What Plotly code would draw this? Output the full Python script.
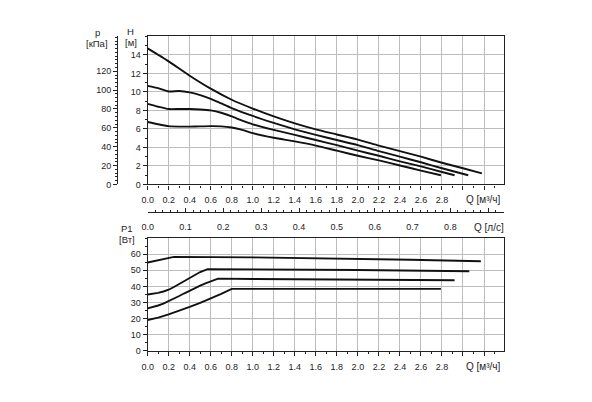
import plotly.graph_objects as go

# head curves, H [m] vs Q [m3/h]
q_h1 = [0, 0.2, 0.4, 0.6, 0.8, 1.0, 1.2, 1.4, 1.6, 1.8, 2.0, 2.2, 2.4, 2.6, 2.8, 3.0, 3.18]
h1 = [14.7, 13.3, 11.75, 10.35, 9.15, 8.2, 7.35, 6.6, 5.95, 5.4, 4.85, 4.2, 3.6, 3.0, 2.35, 1.75, 1.2]

q_h2 = [0, 0.1, 0.2, 0.3, 0.4, 0.5, 0.6, 0.7, 0.8, 1.0, 1.2, 1.4, 1.6, 1.8, 2.0, 2.2, 2.4, 2.6, 2.8, 3.05]
h2 = [10.65, 10.4, 10.05, 10.1, 9.95, 9.65, 9.25, 8.75, 8.25, 7.4, 6.65, 5.95, 5.35, 4.8, 4.25, 3.6, 3.0, 2.4, 1.75, 1.0]

q_h3 = [0, 0.1, 0.2, 0.3, 0.4, 0.5, 0.6, 0.7, 0.8, 0.9, 1.0, 1.2, 1.4, 1.6, 1.8, 2.0, 2.2, 2.4, 2.6, 2.8, 2.92]
h3 = [8.7, 8.4, 8.15, 8.15, 8.15, 8.1, 8.0, 7.75, 7.35, 6.9, 6.5, 5.9, 5.35, 4.8, 4.25, 3.65, 3.1, 2.5, 1.95, 1.35, 1.0]

q_h4 = [0, 0.1, 0.2, 0.3, 0.4, 0.5, 0.6, 0.7, 0.8, 0.9, 1.0, 1.2, 1.4, 1.6, 1.8, 2.0, 2.2, 2.4, 2.6, 2.79]
h4 = [6.75, 6.5, 6.3, 6.25, 6.25, 6.27, 6.3, 6.28, 6.15, 5.9, 5.55, 5.05, 4.65, 4.2, 3.65, 3.1, 2.6, 2.05, 1.5, 1.0]

# power curves, P1 [W] vs Q [m3/h]
q_p1 = [0, 0.05, 0.1, 0.15, 0.2, 0.25, 1.0, 1.8, 2.5, 3.17]
p1 = [54.8, 55.5, 56.3, 57.1, 57.8, 58.3, 58.0, 57.3, 56.5, 55.6]

q_p2 = [0, 0.05, 0.1, 0.15, 0.2, 0.25, 0.3, 0.35, 0.4, 0.45, 0.5, 0.57, 1.0, 2.0, 3.06]
p2 = [34.9, 35.2, 35.9, 36.8, 37.9, 39.6, 41.5, 43.6, 45.5, 47.3, 48.9, 50.7, 50.6, 50.2, 49.4]

q_p3 = [0, 0.05, 0.1, 0.15, 0.2, 0.25, 0.3, 0.35, 0.4, 0.45, 0.5, 0.55, 0.6, 0.67, 1.0, 2.0, 2.92]
p3 = [26.3, 27.1, 28.1, 29.3, 30.7, 32.3, 34.0, 35.7, 37.4, 39.0, 40.5, 41.9, 43.2, 44.8, 44.6, 44.2, 43.8]

q_p4 = [0, 0.1, 0.2, 0.3, 0.4, 0.5, 0.6, 0.7, 0.8, 1.5, 2.79]
p4 = [19.1, 20.6, 22.6, 24.8, 27.2, 29.7, 32.4, 35.3, 38.4, 38.4, 38.4]

# axis ticks
q_ticks = [0.0, 0.2, 0.4, 0.6, 0.8, 1.0, 1.2, 1.4, 1.6, 1.8, 2.0, 2.2, 2.4, 2.6, 2.8, 3.0, 3.2]
q_labels = ["0.0", "0.2", "0.4", "0.6", "0.8", "1.0", "1.2", "1.4", "1.6", "1.8",
            "2.0", "2.2", "2.4", "2.6", "2.8", "", ""]
ls_ticks = [0.0, 0.1, 0.2, 0.3, 0.4, 0.5, 0.6, 0.7, 0.8, 0.9]
ls_labels = ["0.0", "0.1", "0.2", "0.3", "0.4", "0.5", "0.6", "0.7", "0.8", ""]
h_ticks = [0, 2, 4, 6, 8, 10, 12, 14]
kpa_ticks = [0, 20, 40, 60, 80, 100, 120]
p_ticks = [0, 10, 20, 30, 40, 50, 60]

Q_MAX = 3.39
H_MAX = 16
P_MAX = 70

W, H = 592, 402
OFF = 8  # page body margin
FONT = dict(family="Liberation Sans, Arial, sans-serif", size=9, color="#1e1e1e")
GRID = "#bdbdbd"
LINE = "#222222"


def px_x(v):
    return (v - OFF) / W


def px_y(v):
    return 1 - (v - OFF) / H


def curve(x, y, xa, ya, shape):
    return go.Scatter(x=x, y=y, xaxis=xa, yaxis=ya, mode="lines",
                      line=dict(color="#111111", width=1.9, shape=shape, smoothing=0.6),
                      showlegend=False, hoverinfo="skip")


def main():
    fig = go.Figure()

    for x, y in [(q_h1, h1), (q_h2, h2), (q_h3, h3), (q_h4, h4)]:
        fig.add_trace(curve(x, y, "x", "y", "spline"))
    for x, y in [(q_p1, p1), (q_p2, p2), (q_p3, p3), (q_p4, p4)]:
        fig.add_trace(curve(x, y, "x2", "y2", "linear"))

    # empty traces so the extra axes (kPa, l/s) get drawn
    fig.add_trace(go.Scatter(x=[0], y=[0], xaxis="x", yaxis="y3", mode="lines",
                             line=dict(width=0), showlegend=False, hoverinfo="skip"))
    fig.add_trace(go.Scatter(x=[0], y=[0], xaxis="x3", yaxis="y2", mode="lines",
                             line=dict(width=0), showlegend=False, hoverinfo="skip"))

    xdom = [px_x(143), px_x(503)]
    common_x = dict(range=[0, Q_MAX], tickmode="array", tickvals=q_ticks, ticktext=q_labels,
                    ticks="outside", ticklen=4, tickcolor=LINE, showgrid=True, gridcolor=GRID,
                    gridwidth=1, showline=True, linecolor=LINE, linewidth=1.2, mirror=True,
                    zeroline=False, domain=xdom, tickfont=FONT, ticklabelstandoff=3,
                    minor=dict(tickmode="linear", tick0=0, dtick=0.1, ticks="outside",
                               ticklen=2, tickcolor=LINE, showgrid=False))

    fig.update_layout(
        width=W, height=H, autosize=False,
        margin=dict(l=0, r=0, t=0, b=0),
        paper_bgcolor="white", plot_bgcolor="white",
        font=FONT,
        xaxis=dict(common_x, anchor="y"),
        yaxis=dict(range=[0, H_MAX], domain=[px_y(186.7), px_y(36.7)], anchor="x",
                   tickmode="array", tickvals=h_ticks, ticks="outside", ticklen=4,
                   tickcolor=LINE, showgrid=True, gridcolor=GRID, showline=True,
                   linecolor=LINE, linewidth=1.2, mirror=True, zeroline=False, tickfont=FONT,
                   minor=dict(tickmode="linear", tick0=0, dtick=1, ticks="outside",
                              ticklen=2, tickcolor=LINE, showgrid=False)),
        xaxis2=dict(common_x, anchor="y2"),
        yaxis2=dict(range=[0, P_MAX], domain=[px_y(355), px_y(241)], anchor="x2",
                    tickmode="array", tickvals=p_ticks, ticks="outside", ticklen=4,
                    tickcolor=LINE, showgrid=True, gridcolor=GRID, showline=True,
                    linecolor=LINE, linewidth=1.2, mirror=True, zeroline=False, tickfont=FONT,
                    minor=dict(tickmode="linear", tick0=0, dtick=5, ticks="outside",
                               ticklen=2, tickcolor=LINE, showgrid=False)),
        # kPa axis left of the H axis
        yaxis3=dict(range=[0, H_MAX * 9.81], overlaying="y", anchor="free",
                    position=px_x(112.3), side="left", tickmode="array", tickvals=kpa_ticks,
                    ticks="outside", ticklen=4, tickcolor=LINE, showgrid=False,
                    showline=True, linecolor=LINE, linewidth=1.2, zeroline=False,
                    tickfont=FONT,
                    minor=dict(tickmode="linear", tick0=0, dtick=4, ticks="outside",
                               ticklen=2, tickcolor=LINE)),
        # l/s axis between the two plots
        xaxis3=dict(range=[0, Q_MAX / 3.6], overlaying="x2", anchor="free",
                    position=px_y(215), side="bottom", tickmode="array", tickvals=ls_ticks,
                    ticktext=ls_labels, ticks="inside", ticklen=4, tickcolor=LINE,
                    showgrid=False, showline=True, linecolor=LINE, linewidth=1.2,
                    zeroline=False, tickfont=FONT, ticklabelstandoff=6,
                    minor=dict(tickmode="linear", tick0=0, dtick=0.02, ticks="inside",
                               ticklen=2, tickcolor=LINE)),
    )

    # axis titles
    titles = [
        ("p", 92.3, 33), ("[кПа]", 92.3, 44),
        ("H", 125.7, 32), ("[м]", 125.7, 42.5),
        ("P1", 122.3, 231.5), ("[Вт]", 122.3, 242.5),
    ]
    for text, x, y in titles:
        fig.add_annotation(text=text, x=px_x(x), y=px_y(y), xref="paper", yref="paper",
                           showarrow=False, font=dict(FONT, size=9.5), xanchor="center",
                           yanchor="middle")
    for text, x, y in [("Q [м³/ч]", 502, 201.5), ("Q [л/с]", 505, 230), ("Q [м³/ч]", 502, 371.5)]:
        fig.add_annotation(text=text, x=px_x(x), y=px_y(y), xref="paper", yref="paper",
                           showarrow=False, font=dict(FONT, size=10), xanchor="right",
                           yanchor="middle")

    fig.write_html("out.html")


if __name__ == "__main__":
    main()
